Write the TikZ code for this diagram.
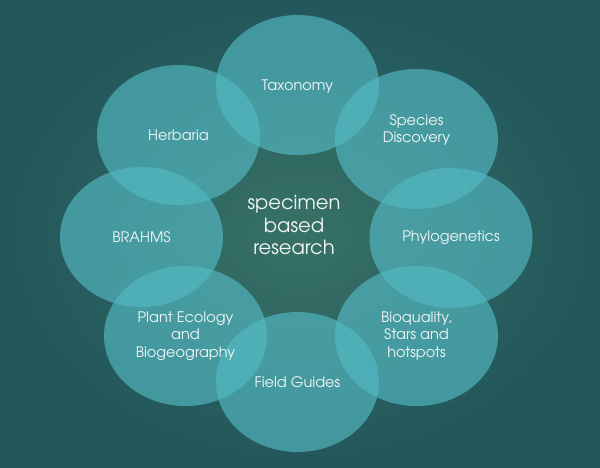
\documentclass[tikz,border=0pt]{standalone}
\usepackage{fontspec}
\setmainfont{texgyreadventor-regular.otf}
\usetikzlibrary{shapes.geometric, positioning}
\definecolor{bgInner}{HTML}{387266}
\definecolor{bgOuter}{HTML}{22565B}
\definecolor{bubbleTeal}{HTML}{54BAC4}
\definecolor{labelWhite}{HTML}{F2F6F6}

\begin{document}
\begin{tikzpicture}[x=1pt, y=-1pt,
    bubble/.style={ellipse, fill=bubbleTeal, fill opacity=0.65, minimum width=163pt, minimum height=140pt, inner sep=0pt},
    bubbletext/.style={text=labelWhite, font=\fontsize{14.5}{17.5}\selectfont, align=center}]
                \shade[inner color=bgInner, outer color=bgOuter] (0,0) rectangle (600,467);
                % ring of topics
                \foreach \nm/\px/\py in {tax/297.5/85, spec/416.5/139, phylo/451/238, bioq/416.5/336, field/297.5/382, plant/185.5/336, brahms/141.5/237, herb/178.5/135}
                    \node[bubble] (\nm) at (\px,\py) {};
                \node[bubbletext] at ([yshift=-2pt]tax.center) {Taxonomy};
                \node[bubbletext] at ([yshift=9pt]spec.center) {Species\\Discovery};
                \node[bubbletext] at (phylo.center) {Phylogenetics};
                \node[bubbletext] at (bioq.center) {Bioquality,\\Stars and\\hotspots};
                \node[bubbletext] at (field.center) {Field Guides};
                \node[bubbletext] at (plant.center) {Plant Ecology\\and\\Biogeography};
                \node[bubbletext] at (brahms.center) {BRAHMS};
                \node[bubbletext] at (herb.center) {Herbaria};
                % centre
                \node[text=labelWhite, font=\fontsize{19.5}{22.5}\selectfont, align=center] (core) at (294,225) {specimen\\based\\research};
            \end{tikzpicture}
\end{document}
